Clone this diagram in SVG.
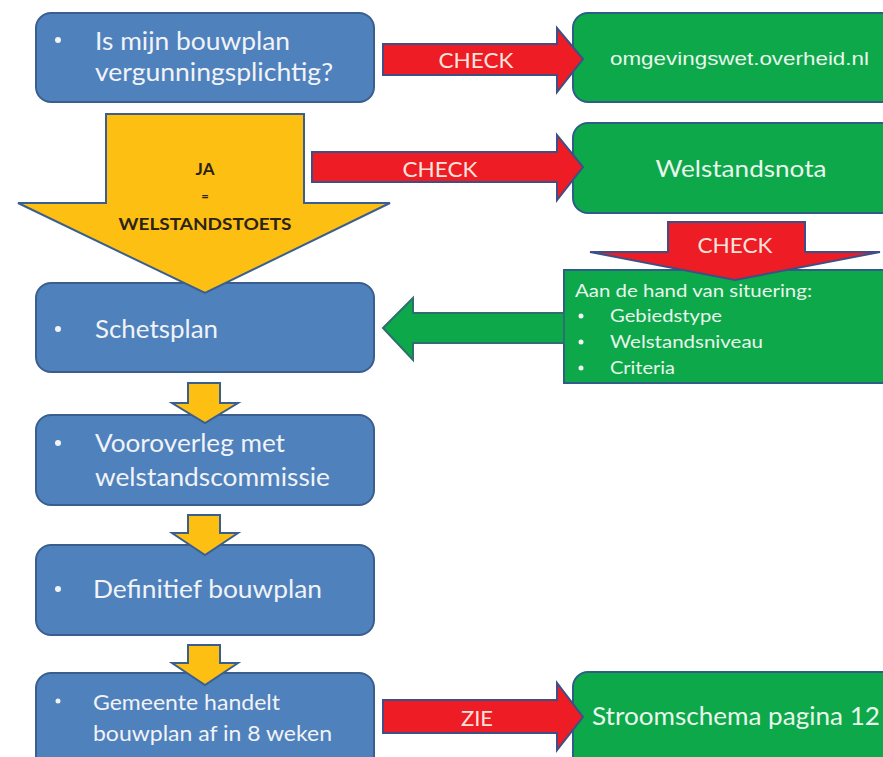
<svg xmlns="http://www.w3.org/2000/svg" width="883" height="757" viewBox="0 0 883 757">
<style>
.blue{fill:#4F81BD;stroke:#3A5F8F;stroke-width:2}
.green{fill:#0DA84A;stroke:#2E5E86;stroke-width:2}
.red{fill:#EE1C25;stroke:#3F4F86;stroke-width:2}
.yellow{fill:#FDBF12;stroke:#3A5F8F;stroke-width:2}
.garrow{fill:#0DA84A;stroke:#2E6E70;stroke-width:2}
.t{font-family:Lato,"Open Sans",sans-serif;fill:#F1F3F7}
.tg{font-family:Lato,"Open Sans",sans-serif;fill:#E8F6EC}
.lbl{font-family:Lato,"Open Sans",sans-serif;fill:#FBE3DC;font-size:22px;text-anchor:middle}
.dot{fill:#F1F3F7}
.dk{font-family:Lato,"Open Sans",sans-serif;fill:#2A2417;font-weight:bold;text-anchor:middle}
</style>
<rect width="883" height="757" fill="#FFFFFF"/>
<g id="box-vergunning">
<rect class="blue" x="36" y="13" width="338" height="89" rx="15"/>
<circle class="dot" cx="58" cy="40" r="3"/>
<text class="t" x="95" y="50" font-size="25" textLength="195" lengthAdjust="spacingAndGlyphs">Is mijn bouwplan</text>
<text class="t" x="95" y="81" font-size="25" textLength="238" lengthAdjust="spacingAndGlyphs">vergunningsplichtig?</text>
</g>
<g id="box-schetsplan">
<rect class="blue" x="36" y="283" width="338" height="89" rx="15"/>
<circle class="dot" cx="58" cy="329" r="3"/>
<text class="t" x="95" y="338" font-size="25" textLength="123" lengthAdjust="spacingAndGlyphs">Schetsplan</text>
</g>
<g id="box-vooroverleg">
<rect class="blue" x="36" y="415" width="338" height="90" rx="15"/>
<circle class="dot" cx="58" cy="443" r="3"/>
<text class="t" x="95" y="452" font-size="25" textLength="190" lengthAdjust="spacingAndGlyphs">Vooroverleg met</text>
<text class="t" x="95" y="486" font-size="25" textLength="235" lengthAdjust="spacingAndGlyphs">welstandscommissie</text>
</g>
<g id="box-definitief">
<rect class="blue" x="36" y="545" width="338" height="90" rx="15"/>
<circle class="dot" cx="58" cy="589" r="3"/>
<text class="t" x="93" y="598" font-size="25" textLength="229" lengthAdjust="spacingAndGlyphs">Definitief bouwplan</text>
</g>
<g id="box-gemeente">
<rect class="blue" x="36" y="673" width="338" height="100" rx="15"/>
<circle class="dot" cx="58" cy="701" r="2.5"/>
<text class="t" x="93" y="710" font-size="22" textLength="187" lengthAdjust="spacingAndGlyphs">Gemeente  handelt</text>
<text class="t" x="93" y="741" font-size="22" textLength="239" lengthAdjust="spacingAndGlyphs">bouwplan af in 8 weken</text>
</g>
<g id="box-omgevingswet">
<rect class="green" x="573" y="13" width="330" height="89" rx="15"/>
<text class="tg" x="610" y="65" font-size="19" style="font-family:'Liberation Sans',Arial,sans-serif" textLength="259" lengthAdjust="spacingAndGlyphs">omgevingswet.overheid.nl</text>
</g>
<g id="box-welstandsnota">
<rect class="green" x="573" y="123" width="330" height="90" rx="15"/>
<text class="tg" x="741" y="177" font-size="24" text-anchor="middle" textLength="171" lengthAdjust="spacingAndGlyphs">Welstandsnota</text>
</g>
<g id="box-situering">
<rect class="green" x="564" y="270" width="340" height="113"/>
<text class="tg" x="575" y="297" font-size="18" textLength="237" lengthAdjust="spacingAndGlyphs">Aan de hand van situering:</text>
<circle class="dot" cx="581" cy="316" r="2.5"/>
<circle class="dot" cx="581" cy="342" r="2.5"/>
<circle class="dot" cx="581" cy="368" r="2.5"/>
<text class="tg" x="610" y="322" font-size="18" textLength="112" lengthAdjust="spacingAndGlyphs">Gebiedstype</text>
<text class="tg" x="610" y="348" font-size="18" textLength="153" lengthAdjust="spacingAndGlyphs">Welstandsniveau</text>
<text class="tg" x="610" y="374" font-size="18" textLength="65" lengthAdjust="spacingAndGlyphs">Criteria</text>
</g>
<g id="box-stroomschema">
<rect class="green" x="573" y="672" width="330" height="100" rx="15"/>
<text class="tg" x="592" y="725" font-size="25" textLength="288" lengthAdjust="spacingAndGlyphs">Stroomschema pagina 12</text>
</g>
<g id="connectors">
<g id="arrow-ja">
<path class="yellow" d="M106,114 L304,114 L304,203 L390,203 L205,293 L18,203 L106,203 Z"/>
<text class="dk" x="205" y="175" font-size="17">JA</text>
<text class="dk" x="205" y="201" font-size="13" font-weight="normal">=</text>
<text class="dk" x="205" y="230" font-size="17" textLength="173" lengthAdjust="spacingAndGlyphs">WELSTANDSTOETS</text>
</g>
<path class="yellow" d="M188,383 L220,383 L220,403 L238,403 L205,423 L172,403 L188,403 Z"/>
<path class="yellow" d="M188,515 L220,515 L220,533 L238,533 L205,555 L172,533 L188,533 Z"/>
<path class="yellow" d="M188,645 L220,645 L220,663 L238,663 L205,685 L172,663 L188,663 Z"/>
<g id="arrow-check1">
<path class="red" d="M383,44 L557,44 L557,28 L583,59 L557,92 L557,75 L383,75 Z"/>
<text class="lbl" x="476" y="68" textLength="75" lengthAdjust="spacingAndGlyphs">CHECK</text>
</g>
<g id="arrow-check2">
<path class="red" d="M312,152 L557,152 L557,135 L583,167 L557,200 L557,182 L312,182 Z"/>
<text class="lbl" x="440" y="177" textLength="75" lengthAdjust="spacingAndGlyphs">CHECK</text>
</g>
<g id="arrow-check3">
<path class="red" d="M668,222 L805,222 L805,252 L880,252 L735,280 L590,252 L668,252 Z"/>
<text class="lbl" x="735" y="253" textLength="75" lengthAdjust="spacingAndGlyphs">CHECK</text>
</g>
<path id="arrow-situering" class="garrow" d="M383,328 L413,298 L413,313 L564,313 L564,343 L413,343 L413,360 Z"/>
<g id="arrow-zie">
<path class="red" d="M383,700 L557,700 L557,683 L583,717 L557,750 L557,733 L383,733 Z"/>
<text class="lbl" x="477" y="726" textLength="32" lengthAdjust="spacingAndGlyphs">ZIE</text>
</g>
</g>
</svg>
